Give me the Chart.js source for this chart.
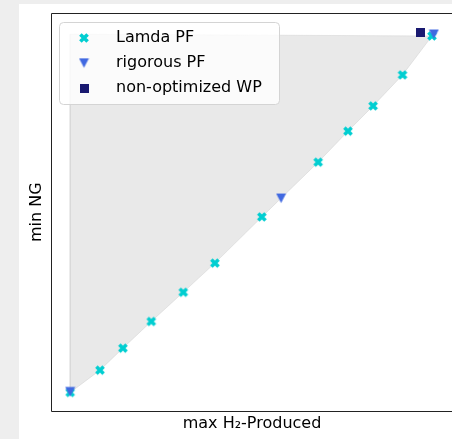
<!DOCTYPE html>
<html>
<head>
<meta charset="utf-8">
<script src="https://cdn.jsdelivr.net/npm/chart.js@4"></script>
<style>
  html, body { margin: 0; padding: 0; background: #eeeeee; }
  #box { position: absolute; left: 19px; top: 4px; width: 433px; height: 435px; background: #ffffff; }
</style>
</head>
<body>
<div id="box"><canvas id="myChart" width="433" height="435"></canvas></div>
<script>
// 図から読み取った値（目盛りなしなので 0-100 の相対値）
var lamdaX = [0, 8.2, 14.5, 22.3, 31.1, 39.8, 52.7, 68.2, 76.4, 83.3, 91.4, 99.5];
var lamdaY = [0, 6.2, 12.3, 19.7, 27.8, 35.9, 48.7, 63.9, 72.5, 79.5, 88.1, 98.9];
var rigorousX = [0, 58.0, 100];
var rigorousY = [0.2, 53.9, 99.4];
var wpX = [96.3];
var wpY = [100];
var fillTop = 99.4;
var labels = ['Lamda PF', 'rigorous PF', 'non-optimized WP'];
var xTitle = 'max H₂-Produced';
var yTitle = 'min NG';

function toPoints(xs, ys) {
  var pts = [];
  for (var i = 0; i < xs.length; i++) {
    pts.push({ x: xs[i], y: ys[i] });
  }
  return pts;
}

// マーカー画像
function makeMarker(w, h, draw) {
  var c = document.createElement('canvas');
  c.width = w;
  c.height = h;
  draw(c.getContext('2d'));
  return c;
}
var xMarker = makeMarker(12, 12, function (g) {
  g.strokeStyle = '#00ced1';
  g.lineWidth = 3.6;
  g.beginPath();
  g.moveTo(2.4, 2.4); g.lineTo(9.6, 9.6);
  g.moveTo(9.6, 2.4); g.lineTo(2.4, 9.6);
  g.stroke();
});
var triMarker = makeMarker(11, 11, function (g) {
  g.fillStyle = '#4169e1';
  g.beginPath();
  g.moveTo(0.5, 0.8); g.lineTo(10.5, 0.8); g.lineTo(5.5, 10.3);
  g.closePath();
  g.fill();
});
var sqMarker = makeMarker(9, 9, function (g) {
  g.fillStyle = '#191970';
  g.fillRect(0, 0, 9, 9);
});

// 塗りつぶし領域（左上の角 + Lamda PF）
var lamdaPts = toPoints(lamdaX, lamdaY);
var fillPts = [{ x: lamdaX[0], y: fillTop }].concat(lamdaPts).concat([{ x: lamdaX[0], y: fillTop }]);

// 枠線
var frame = {
  id: 'frame',
  afterDatasetsDraw: function (chart) {
    var a = chart.chartArea, ctx = chart.ctx;
    var l = Math.round(a.left) - 0.5, t = Math.round(a.top) - 0.5;
    var r = a.right + 0.5, b = Math.round(a.bottom) + 0.5;
    ctx.save();
    ctx.strokeStyle = '#222222';
    ctx.lineWidth = 1;
    ctx.beginPath();
    ctx.moveTo(l, t); ctx.lineTo(r, t); ctx.lineTo(r, b); ctx.lineTo(l, b);
    ctx.closePath();
    ctx.stroke();
    ctx.restore();
  }
};

// 凡例（グラフ内左上）
var legendBox = {
  id: 'legendBox',
  afterDraw: function (chart) {
    var ctx = chart.ctx;
    var x = 40.5, y = 18.5, w = 220, h = 82, rad = 4;
    ctx.save();
    ctx.beginPath();
    ctx.moveTo(x + rad, y);
    ctx.lineTo(x + w - rad, y); ctx.arcTo(x + w, y, x + w, y + rad, rad);
    ctx.lineTo(x + w, y + h - rad); ctx.arcTo(x + w, y + h, x + w - rad, y + h, rad);
    ctx.lineTo(x + rad, y + h); ctx.arcTo(x, y + h, x, y + h - rad, rad);
    ctx.lineTo(x, y + rad); ctx.arcTo(x, y, x + rad, y, rad);
    ctx.closePath();
    ctx.fillStyle = 'rgba(255,255,255,0.8)';
    ctx.fill();
    ctx.strokeStyle = '#d4d4d4';
    ctx.lineWidth = 1;
    ctx.stroke();

    var markers = [xMarker, triMarker, sqMarker];
    var rowY = [34, 59, 84];
    ctx.font = '16px "DejaVu Sans"';
    ctx.fillStyle = '#000000';
    ctx.textBaseline = 'middle';
    for (var i = 0; i < markers.length; i++) {
      var m = markers[i];
      ctx.drawImage(m, 65 - m.width / 2, rowY[i] - m.height / 2);
      ctx.fillText(labels[i], 97, rowY[i]);
    }
    ctx.restore();
  }
};

Chart.defaults.font.family = '"DejaVu Sans"';
Chart.defaults.color = '#000000';

var ctx = document.getElementById('myChart').getContext('2d');
var myChart = new Chart(ctx, {
  type: 'scatter',
  data: {
    datasets: [
      { label: labels[2], data: toPoints(wpX, wpY), pointStyle: sqMarker, order: 0 },
      { label: labels[1], data: toPoints(rigorousX, rigorousY), pointStyle: triMarker, order: 1 },
      { label: labels[0], data: lamdaPts, pointStyle: xMarker, order: 2 },
      {
        type: 'line', label: 'area', data: fillPts, order: 3,
        fill: 'shape', tension: 0, pointRadius: 0,
        backgroundColor: 'rgba(200,200,200,0.4)',
        borderColor: 'rgba(200,200,200,0.4)', borderWidth: 1
      }
    ]
  },
  options: {
    responsive: false,
    animation: false,
    events: [],
    layout: { autoPadding: false, padding: { top: 10, right: 0, left: 0, bottom: 0 } },
    plugins: {
      legend: { display: false },
      tooltip: { enabled: false }
    },
    scales: {
      x: {
        type: 'linear', min: -5, max: 105,
        ticks: { display: false },
        grid: { display: false, drawTicks: false },
        border: { display: false },
        title: { display: true, text: xTitle, font: { size: 16 }, padding: { top: 3.9, bottom: 5.4 } }
      },
      y: {
        type: 'linear', min: -5, max: 105,
        ticks: { display: false },
        grid: { display: false, drawTicks: false },
        border: { display: false },
        title: { display: true, text: yTitle, font: { size: 16 }, padding: { top: 8.4, bottom: 5.4 } }
      }
    }
  },
  plugins: [frame, legendBox]
});
</script>
</body>
</html>
